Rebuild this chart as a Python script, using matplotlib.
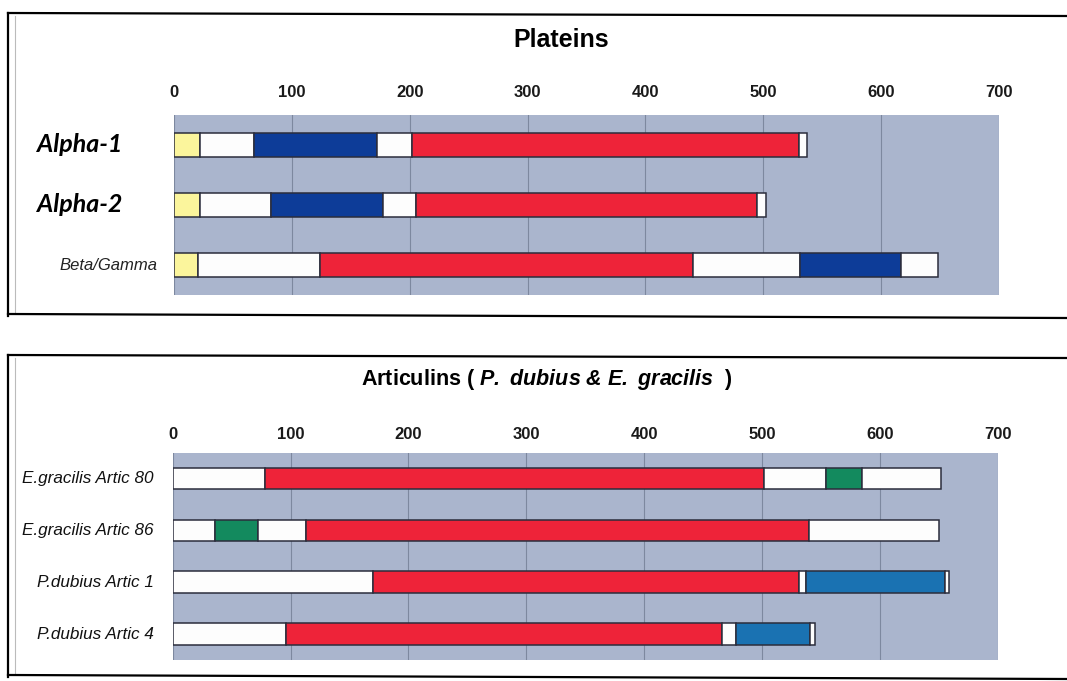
import matplotlib
matplotlib.use("Agg")
import matplotlib.pyplot as plt
from matplotlib.lines import Line2D

plt.rcParams["mathtext.fontset"] = "custom"
plt.rcParams["mathtext.bfit"] = "Liberation Sans:italic:bold"
plt.rcParams["mathtext.rm"] = "Liberation Sans:bold"

# ---------------- data ----------------
xticks = [0, 100, 200, 300, 400, 500, 600, 700]

plateins_title = "Plateins"
plateins_labels = ["Alpha-1", "Alpha-2", "Beta/Gamma"]
alpha1_ends = [22, 68, 172, 202, 530, 537]
alpha1_kinds = ["Y", "W", "B", "W", "R", "W"]
alpha2_ends = [22, 82, 177, 205, 495, 502]
alpha2_kinds = ["Y", "W", "B", "W", "R", "W"]
betagamma_ends = [20, 124, 440, 531, 617, 648]
betagamma_kinds = ["Y", "W", "R", "W", "B", "W"]

artic_labels = ["E.gracilis Artic 80", "E.gracilis Artic 86",
                "P.dubius Artic 1", "P.dubius Artic 4"]
eg80_ends = [78, 502, 554, 585, 652]
eg80_kinds = ["W", "R", "W", "G", "W"]
eg86_ends = [36, 72, 113, 540, 650]
eg86_kinds = ["W", "G", "W", "R", "W"]
pd1_ends = [170, 531, 537, 655, 659]
pd1_kinds = ["W", "R", "W", "C", "W"]
pd4_ends = [96, 466, 478, 541, 545]
pd4_kinds = ["W", "R", "W", "C", "W"]

colors = {"Y": "#fbf59c", "W": "#fdfdfd", "B": "#0d3c98",
          "R": "#ee2339", "G": "#138a5e", "C": "#1a72b2"}

W, H = 1067, 681
fig = plt.figure(figsize=(W / 100, H / 100), dpi=100)
fig.patch.set_facecolor("white")

def fx(px):
    return px / W

def fy(py):
    return 1 - py / H

BG = "#aab5cd"
GRID = "#7d889f"

def draw_panel(ax, rows_ends, rows_kinds, bar_h):
    ax.set_facecolor(BG)
    for i, (ends, kinds) in enumerate(zip(rows_ends, rows_kinds)):
        start = 0
        for e, k in zip(ends, kinds):
            ax.barh(i, e - start, left=start, height=bar_h,
                    color=colors[k], edgecolor="#2b2d3c", linewidth=1.1,
                    zorder=3)
            start = e
    ax.set_xlim(0, 700)
    ax.set_ylim(len(rows_ends) - 0.5, -0.5)
    ax.set_xticks(xticks)
    ax.xaxis.tick_top()
    ax.set_xticklabels([str(t) for t in xticks], fontsize=12,
                       fontweight="bold", family="Liberation Sans",
                       color="#1a1a1a")
    ax.tick_params(axis="x", length=0)
    ax.set_yticks([])
    ax.grid(axis="x", color=GRID, linewidth=0.8, zorder=1)
    ax.set_axisbelow(True)
    for s in ax.spines.values():
        s.set_visible(False)

# ---------------- top panel ----------------
ax1 = fig.add_axes([fx(174), fy(295), fx(999) - fx(174), (295 - 115) / H])
draw_panel(ax1, [alpha1_ends, alpha2_ends, betagamma_ends],
           [alpha1_kinds, alpha2_kinds, betagamma_kinds], 0.4)
ax1.tick_params(axis="x", pad=11)
for i, lab in enumerate(plateins_labels):
    if lab.startswith("Alpha"):
        ax1.text(-52 / 825, i, lab, transform=ax1.get_yaxis_transform(),
                 ha="right", va="center", fontsize=18, fontweight="bold",
                 style="italic", family="Lato")
    else:
        ax1.text(-17 / 825, i, lab, transform=ax1.get_yaxis_transform(),
                 ha="right", va="center", fontsize=12, style="italic",
                 family="Liberation Sans", color="#222222")
fig.text(fx(561), fy(40), plateins_title, ha="center", va="center",
         fontsize=18, fontweight="bold", family="Liberation Sans")

# ---------------- bottom panel ----------------
ax2 = fig.add_axes([fx(172.7), fy(660), fx(997.7) - fx(172.7), (660 - 452.7) / H])
draw_panel(ax2, [eg80_ends, eg86_ends, pd1_ends, pd4_ends],
           [eg80_kinds, eg86_kinds, pd1_kinds, pd4_kinds], 0.42)
ax2.tick_params(axis="x", pad=8)
for i, lab in enumerate(artic_labels):
    ax2.text(-19 / 825, i, lab, transform=ax2.get_yaxis_transform(),
             ha="right", va="center", fontsize=12.3, style="italic",
             family="Liberation Sans", color="#111111")
fig.text(fx(547), fy(379),
         r"Articulins ( $\mathbfit{P.\;dubius\;&\;E.\;gracilis}$  )",
         ha="center", va="center", fontsize=15.5, fontweight="bold",
         family="Liberation Sans")

# ---------------- frames ----------------
def frame(top, bottom):
    fig.add_artist(Line2D([fx(8), fx(8)], [fy(top), fy(bottom)], color="black", lw=1.6))
    fig.add_artist(Line2D([fx(15), fx(15)], [fy(top + 3), fy(bottom - 3)], color="#bbbbbb", lw=0.8))
    fig.add_artist(Line2D([fx(8), 1.0], [fy(top), fy(top + 3)], color="black", lw=1.6))
    fig.add_artist(Line2D([fx(8), 1.0], [fy(bottom - 2), fy(bottom + 2)], color="black", lw=1.6))

frame(13, 316)
frame(355, 677)

fig.savefig("out.png", dpi=100)
